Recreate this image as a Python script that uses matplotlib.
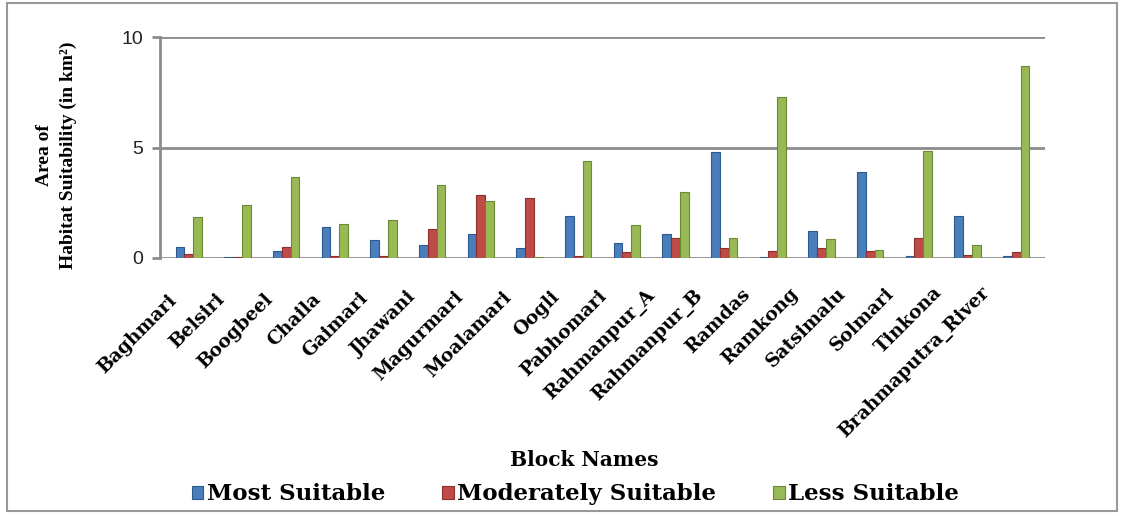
import matplotlib
matplotlib.use("Agg")
import matplotlib.pyplot as plt
import matplotlib.transforms as mtransforms
import numpy as np
from matplotlib.patches import Rectangle

blocks = ["Baghmari", "Belsiri", "Boogbeel", "Chaila", "Gaimari", "Jhawani",
          "Magurmari", "Moalamari", "Oogli", "Pabhomari", "Rahmanpur_A",
          "Rahmanpur_B", "Ramdas", "Ramkong", "Satsimalu", "Solmari",
          "Tinkona", "Brahmaputra_River"]
most_suitable = [0.5, 0.05, 0.3, 1.4, 0.8, 0.6, 1.1, 0.45, 1.9, 0.7, 1.1,
                 4.8, 0.05, 1.2, 3.9, 0.1, 1.9, 0.1]
moderately_suitable = [0.2, 0.05, 0.5, 0.1, 0.1, 1.3, 2.85, 2.7, 0.1, 0.25,
                       0.9, 0.45, 0.3, 0.45, 0.3, 0.9, 0.15, 0.25]
less_suitable = [1.85, 2.4, 3.65, 1.55, 1.7, 3.3, 2.6, 0.05, 4.4, 1.5, 3.0,
                 0.9, 7.3, 0.85, 0.35, 4.85, 0.6, 8.7]
series_names = ["Most Suitable", "Moderately Suitable", "Less Suitable"]
colors = ["#4a7ebb", "#be4b48", "#98b954"]
edges = ["#2c5a8f", "#8c2f2d", "#6c8a35"]

serif = ["Liberation Serif", "DejaVu Serif"]
wide_serif = ["DejaVu Serif"]

fig = plt.figure(figsize=(11.24, 5.16), dpi=100)
ax = fig.add_axes([0.142, 0.5, 0.788, 0.428])

x = np.arange(len(blocks))
w = 0.18
for i, (vals, c, e, name) in enumerate(zip([most_suitable, moderately_suitable, less_suitable],
                                           colors, edges, series_names)):
    ax.bar(x + (i - 1) * w, vals, width=w, color=c, edgecolor=e, linewidth=0.8,
           label=name, zorder=3)

ax.set_xlim(-0.6, len(blocks) - 0.4)
ax.set_ylim(0, 10)
ax.set_yticks([0, 5, 10])
for yv in [0, 5, 10]:
    ax.axhline(yv, color="#8c8c8c", linewidth=2, zorder=1)
for s in ["top", "right", "bottom"]:
    ax.spines[s].set_visible(False)
ax.spines["left"].set_color("#8c8c8c")
ax.spines["left"].set_linewidth(2)
ax.tick_params(axis="y", colors="#8c8c8c", length=6, width=2, labelsize=14, pad=6)
for lab in ax.get_yticklabels():
    lab.set_color("#222222")
    lab.set_family(["Liberation Sans", "DejaVu Sans"])

ax.set_xticks(x)
ax.set_xticklabels(blocks, rotation=45, ha="right", va="top", rotation_mode="anchor",
                   family=wide_serif, fontweight="bold", fontsize=13.5)
ax.tick_params(axis="x", length=0, pad=0)
n = len(blocks)
for i, lab in enumerate(ax.get_xticklabels()):
    dx = -(21 + 15 * i / (n - 1)) / 100.0
    dy = -(33 - 8 * i / (n - 1)) / 100.0
    lab.set_transform(lab.get_transform() +
                      mtransforms.ScaledTranslation(dx, dy, fig.dpi_scale_trans))

fig.text(0.05, 0.70, "Area of\nHabitat Suitability (in km²)", rotation=90,
         ha="center", va="center", family=serif, fontweight="bold", fontsize=14,
         multialignment="center", linespacing=1.5)
fig.text(0.52, 0.108, "Block Names", ha="center", va="center", family=wide_serif,
         fontweight="bold", fontsize=14.5)

leg = fig.legend(loc="center", bbox_to_anchor=(0.512, 0.042), ncol=3, frameon=False,
                 prop={"family": wide_serif, "weight": "bold", "size": 16.5},
                 handlelength=0.5, handleheight=0.5, handletextpad=0.15,
                 columnspacing=2.5)

fig.patches.append(Rectangle((0.006, 0.01), 0.988, 0.985, transform=fig.transFigure,
                             fill=False, edgecolor="#999999", linewidth=1.5))

fig.savefig("out.png", dpi=100)
